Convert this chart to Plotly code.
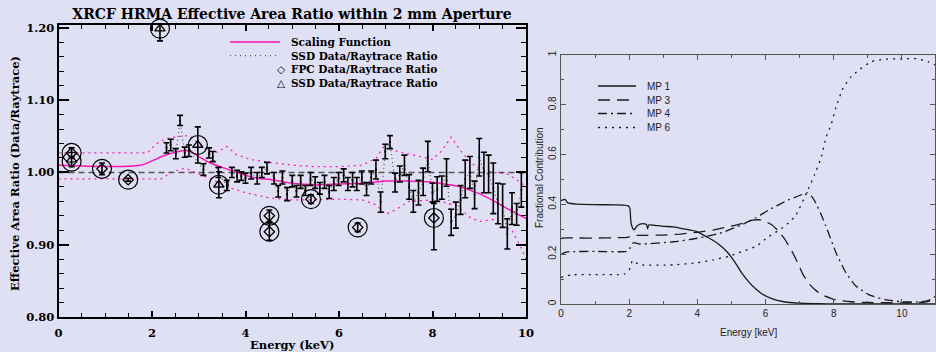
import plotly.graph_objects as go

W, H = 936, 352
BG = "#e0e0f4"
MAG = "#ff14b4"
SERIF = "DejaVu Serif"
SANS = "Liberation Sans"

# ---------------- Left panel data ----------------
scale_E = [0, 1.75, 2.0, 2.25, 2.5, 2.78, 3.0, 3.25, 3.55, 3.9, 4.25, 4.55, 5.0, 5.5, 6.0, 6.5, 7.0, 7.5, 7.9, 8.25, 8.6, 8.95, 9.3, 9.6, 9.8, 10.0]
scale_R = [1.010, 1.010, 1.016, 1.023, 1.028, 1.030, 1.022, 1.013, 1.006, 0.998, 0.992, 0.990, 0.985, 0.983, 0.984, 0.985, 0.988, 0.988, 0.987, 0.984, 0.980, 0.972, 0.961, 0.950, 0.943, 0.936]

upper_E = [0, 1.9, 2.1, 2.3, 2.6, 2.8, 3.0, 3.2, 3.4, 3.6, 3.8, 4.1, 4.5, 5.0, 5.5, 6.0, 6.5, 6.8, 7.0, 7.2, 7.6, 8.0, 8.2, 8.4, 8.6, 8.8, 9.0, 9.3, 9.6, 9.8, 10.0]
upper_R = [1.027, 1.027, 1.040, 1.047, 1.050, 1.051, 1.040, 1.030, 1.028, 1.036, 1.025, 1.018, 1.014, 1.010, 1.008, 1.008, 1.010, 1.020, 1.040, 1.030, 1.024, 1.018, 1.030, 1.049, 1.030, 1.015, 1.005, 1.000, 0.998, 0.990, 0.980]

lower_E = [0, 2.2, 2.4, 2.7, 3.0, 3.3, 3.6, 4.0, 4.5, 5.0, 5.5, 6.0, 6.5, 6.8, 7.0, 7.2, 7.5, 8.0, 8.5, 8.8, 9.0, 9.3, 9.5, 9.7, 9.9, 10.0]
lower_R = [0.991, 0.991, 1.000, 1.006, 0.998, 0.990, 0.980, 0.972, 0.965, 0.962, 0.962, 0.963, 0.962, 0.955, 0.942, 0.948, 0.960, 0.962, 0.955, 0.938, 0.932, 0.935, 0.925, 0.920, 0.895, 0.880]

ssd_E = [2.31, 2.40, 2.51, 2.60, 2.70, 2.79, 3.10, 3.22, 3.30, 3.42, 3.60, 3.71, 3.82, 3.91, 4.00, 4.12, 4.25, 4.35, 4.46,
         4.61, 4.70, 4.79, 4.89, 5.00, 5.09, 5.18, 5.28, 5.39, 5.49, 5.59, 5.69, 5.79, 5.89, 5.99, 6.10, 6.19, 6.29,
         6.38, 6.49, 6.59, 6.69, 6.79, 6.89, 6.99, 7.09, 7.20, 7.30, 7.40, 7.50, 7.59, 7.70, 7.80, 7.90, 8.00, 8.10,
         8.20, 8.30, 8.40, 8.50, 8.60, 8.70, 8.80, 8.90, 9.00, 9.10, 9.20, 9.30, 9.40, 9.50, 9.60, 9.70, 9.80, 9.90]
ssd_R = [1.034, 1.038, 1.026, 1.072, 1.028, 1.030, 1.004, 1.027, 1.022, 1.000, 0.982, 1.000, 0.995, 0.995, 0.992, 0.999, 0.992, 1.000, 1.006,
         0.992, 0.974, 0.993, 0.970, 0.988, 0.974, 0.987, 0.975, 0.991, 0.986, 0.978, 0.987, 0.973, 0.984, 0.991, 0.996, 0.984, 0.990,
         0.984, 0.993, 0.977, 0.993, 1.004, 0.959, 1.029, 1.042, 0.986, 0.998, 1.010, 0.980, 0.960, 0.972, 0.987, 1.022, 0.972, 0.977,
         0.979, 1.000, 0.931, 0.941, 0.962, 0.991, 1.000, 0.969, 1.021, 1.000, 0.998, 0.978, 0.957, 0.954, 0.915, 0.950, 0.942, 0.976]
ssd_err = [0.007, 0.008, 0.007, 0.007, 0.007, 0.008, 0.008, 0.007, 0.007, 0.007, 0.007, 0.007, 0.008, 0.006, 0.007, 0.008, 0.008, 0.007, 0.008,
           0.008, 0.008, 0.009, 0.009, 0.008, 0.008, 0.009, 0.007, 0.009, 0.008, 0.008, 0.009, 0.009, 0.009, 0.009, 0.009, 0.009, 0.010,
           0.009, 0.009, 0.009, 0.009, 0.013, 0.014, 0.010, 0.009, 0.013, 0.011, 0.014, 0.017, 0.015, 0.017, 0.019, 0.021, 0.013, 0.017,
           0.016, 0.019, 0.018, 0.018, 0.020, 0.026, 0.022, 0.019, 0.026, 0.028, 0.026, 0.035, 0.028, 0.030, 0.021, 0.022, 0.015, 0.024]

fpc_E = [0.28, 0.28, 0.93, 1.49, 4.51, 4.51, 5.40, 6.40, 8.03]
fpc_R = [1.027, 1.015, 1.005, 0.990, 0.940, 0.918, 0.963, 0.924, 0.937]
fpc_err_hi = [0.007, 0.007, 0.008, 0.002, 0.008, 0.012, 0.006, 0.006, 0.020]
fpc_err_lo = [0.007, 0.007, 0.008, 0.002, 0.008, 0.012, 0.006, 0.006, 0.044]

tri_E = [2.17, 2.98, 3.43]
tri_R = [1.199, 1.038, 0.983]
tri_err_hi = [0.010, 0.025, 0.018]
tri_err_lo = [0.017, 0.025, 0.018]

ref_E = [0, 10]
ref_R = [1.0, 1.0]

left_legend = ["Scaling Function", "SSD Data/Raytrace Ratio", "FPC Data/Raytrace Ratio", "SSD Data/Raytrace Ratio"]
left_legend_symbols = ["◇", "△"]

# ---------------- Right panel data ----------------
mp1_E = [0, 0.05, 0.12, 0.2, 0.45, 1.0, 1.6, 1.83, 1.97, 2.02, 2.05, 2.10, 2.15, 2.22, 2.32, 2.45, 2.51, 2.54, 2.57, 2.7, 3.0, 3.3,
         3.6, 4.0, 4.3, 4.5, 4.7, 4.9, 5.1, 5.3, 5.5, 5.7, 5.9, 6.2, 6.5, 6.8, 7.2, 7.6, 8.0, 9.0, 10.0, 11.0]
mp1_F = [0.415, 0.418, 0.420, 0.406, 0.401, 0.399, 0.398, 0.397, 0.394, 0.384, 0.330, 0.305, 0.298, 0.312, 0.321, 0.322, 0.319, 0.302, 0.317, 0.317, 0.312, 0.310,
         0.302, 0.290, 0.268, 0.252, 0.232, 0.205, 0.168, 0.125, 0.090, 0.062, 0.040, 0.021, 0.010, 0.005, 0.002, 0.001, 0.0, 0.0, 0.0, 0.0]

mp3_E = [0, 0.05, 0.5, 1.0, 1.5, 1.95, 2.05, 2.15, 2.5, 3.0, 3.5, 4.0, 4.5, 4.9, 5.3, 5.62, 5.9, 6.19, 6.4, 6.58, 6.8, 6.97, 7.1, 7.26,
         7.45, 7.65, 8.04, 8.5, 9.02, 9.6, 10.2, 10.6, 10.8, 10.97]
mp3_F = [0.262, 0.265, 0.265, 0.265, 0.266, 0.268, 0.272, 0.275, 0.276, 0.277, 0.281, 0.288, 0.298, 0.310, 0.323, 0.337, 0.337, 0.317, 0.290, 0.257, 0.205, 0.157, 0.118, 0.084,
         0.057, 0.037, 0.017, 0.009, 0.006, 0.005, 0.005, 0.007, 0.012, 0.024]

mp4_E = [0, 0.08, 0.25, 1.0, 1.93, 2.04, 2.12, 2.32, 3.3, 4.0, 4.66, 5.25, 5.7, 6.1, 6.67, 7.08, 7.23, 7.35, 7.48, 7.62, 7.77, 8.07,
         8.36, 8.65, 9.02, 9.5, 10.0, 10.58, 10.8, 10.97]
mp4_F = [0.198, 0.205, 0.210, 0.211, 0.212, 0.227, 0.246, 0.241, 0.250, 0.264, 0.284, 0.315, 0.345, 0.378, 0.418, 0.440, 0.446, 0.432, 0.404, 0.362, 0.313, 0.205,
         0.125, 0.072, 0.038, 0.018, 0.009, 0.009, 0.016, 0.030]

mp6_E = [0, 0.33, 1.0, 1.85, 2.0, 2.1, 2.3, 3.3, 4.0, 4.47, 4.96, 5.3, 5.72, 6.08, 6.4, 6.67, 6.89, 7.2, 7.44, 7.64, 7.78, 7.92,
         8.07, 8.27, 8.51, 8.76, 9.1, 9.5, 10.04, 10.43, 10.77, 10.97]
mp6_F = [0.107, 0.117, 0.118, 0.120, 0.136, 0.174, 0.158, 0.157, 0.166, 0.177, 0.193, 0.210, 0.232, 0.270, 0.297, 0.325, 0.357, 0.445, 0.520, 0.592, 0.672, 0.719,
         0.792, 0.866, 0.913, 0.942, 0.973, 0.983, 0.985, 0.985, 0.973, 0.960]

right_legend = ["MP 1", "MP 3", "MP 4", "MP 6"]
right_dashes = ["solid", "12px,7px", "9px,4px,2px,4px", "2px,5px"]

# ---------------- Figure ----------------
fig = go.Figure()

fig.add_trace(go.Scatter(x=upper_E, y=upper_R, mode="lines", line=dict(color=MAG, width=1.2, dash="2px,4px"),
                         xaxis="x", yaxis="y", showlegend=False, hoverinfo="skip"))
fig.add_trace(go.Scatter(x=lower_E, y=lower_R, mode="lines", line=dict(color=MAG, width=1.2, dash="2px,4px"),
                         xaxis="x", yaxis="y", showlegend=False, hoverinfo="skip"))
fig.add_trace(go.Scatter(x=ref_E, y=ref_R, mode="lines", line=dict(color="#555555", width=1.5, dash="6px,4px"),
                         xaxis="x", yaxis="y", showlegend=False))
fig.add_trace(go.Scatter(x=ssd_E, y=ssd_R, mode="lines", line=dict(color="#555555", width=1.2, dash="1px,3px"),
                         xaxis="x", yaxis="y", showlegend=False))
fig.add_trace(go.Scatter(x=scale_E, y=scale_R, mode="lines", line=dict(color=MAG, width=1.5, shape="spline"),
                         xaxis="x", yaxis="y", name=left_legend[0], showlegend=False))
fig.add_trace(go.Scatter(x=ssd_E, y=ssd_R, mode="markers", marker=dict(color="black", size=2),
                         error_y=dict(type="data", array=ssd_err, color="black", thickness=1.6, width=3),
                         xaxis="x", yaxis="y", name=left_legend[1], showlegend=False))
fig.add_trace(go.Scatter(x=fpc_E, y=fpc_R, mode="markers",
                         marker=dict(symbol="diamond-open", color="black", size=8, line=dict(width=1.3)),
                         error_y=dict(type="data", symmetric=False, array=fpc_err_hi, arrayminus=fpc_err_lo,
                                      color="black", thickness=1.6, width=3),
                         xaxis="x", yaxis="y", name=left_legend[2], showlegend=False, cliponaxis=False))
fig.add_trace(go.Scatter(x=tri_E, y=tri_R, mode="markers",
                         marker=dict(symbol="triangle-up-open", color="black", size=9, line=dict(width=1.3)),
                         error_y=dict(type="data", symmetric=False, array=tri_err_hi, arrayminus=tri_err_lo,
                                      color="black", thickness=1.6, width=3),
                         xaxis="x", yaxis="y", name=left_legend[3], showlegend=False, cliponaxis=False))
fig.add_trace(go.Scatter(x=fpc_E + tri_E, y=fpc_R + tri_R, mode="markers",
                         marker=dict(symbol="circle-open", color="black", size=19, line=dict(width=1.2)),
                         xaxis="x", yaxis="y", showlegend=False, cliponaxis=False, hoverinfo="skip"))

for E, F, name, dash in [(mp1_E, mp1_F, right_legend[0], right_dashes[0]),
                         (mp3_E, mp3_F, right_legend[1], right_dashes[1]),
                         (mp4_E, mp4_F, right_legend[2], right_dashes[2]),
                         (mp6_E, mp6_F, right_legend[3], right_dashes[3])]:
    fig.add_trace(go.Scatter(x=E, y=F, mode="lines", name=name,
                             line=dict(color="#1a1a1a", width=1.3, dash=dash, shape="spline", smoothing=0.5),
                             xaxis="x2", yaxis="y2", showlegend=False))


def px(x):
    return x / W


def py(y):
    return 1 - y / H


bold_serif = dict(family=SERIF, size=11.5, color="black", weight="bold")
legend_serif = dict(family=SERIF, size=10.5, color="black", weight="bold")
sans = dict(family=SANS, size=10, color="#222222")

left_ax_common = dict(showline=True, linecolor="black", linewidth=2, mirror="allticks", ticks="inside",
                      tickcolor="black", tickwidth=1.5, showgrid=False, zeroline=False, tickfont=bold_serif,
                      automargin=False)
right_ax_common = dict(showline=True, linecolor="#555555", linewidth=1.3, mirror="allticks", ticks="inside",
                       tickcolor="#555555", tickwidth=1.2, showgrid=False, zeroline=False, tickfont=sans,
                       automargin=False)

fig.update_layout(
    template="none",
    width=W, height=H, margin=dict(l=0, r=0, t=0, b=0, pad=0, autoexpand=False),
    paper_bgcolor=BG, plot_bgcolor=BG, showlegend=False,
    title=dict(text="XRCF HRMA Effective Area Ratio within 2 mm Aperture", x=px(292), xanchor="center",
               y=py(14), yanchor="middle", font=dict(family=SERIF, size=14, color="black", weight="bold")),
    xaxis=dict(domain=[px(58.5), px(526)], range=[0, 10], anchor="y", tick0=0, dtick=2, ticklen=6,
               minor=dict(dtick=0.5, ticklen=4, tickcolor="black", tickwidth=1.2, ticks="inside"),
               ticklabelstandoff=4, **left_ax_common),
    yaxis=dict(domain=[py(317), py(25)], range=[0.8, 1.204], anchor="x", tick0=0.8, dtick=0.1, tickformat=".2f",
               ticklen=10, minor=dict(dtick=0.02, ticklen=5, tickcolor="black", tickwidth=1.2, ticks="inside"),
               **left_ax_common),
    xaxis2=dict(domain=[px(561), px(935)], range=[0, 10.97], anchor="y2", tick0=0, dtick=2, ticklen=5,
                minor=dict(dtick=1, ticklen=3, tickcolor="#555555", tickwidth=1.2, ticks="inside"),
                **right_ax_common),
    yaxis2=dict(domain=[py(304), py(55)], range=[0, 1], anchor="x2", tick0=0, dtick=0.2, ticklen=5, tickangle=-90,
                minor=dict(dtick=0.1, ticklen=3, tickcolor="#555555", tickwidth=1.2, ticks="inside"),
                **right_ax_common),
)

annotations = [
    dict(x=px(292), y=py(345), text="Energy (keV)", font=bold_serif),
    dict(x=px(15), y=py(174), text="Effective Area Ratio (Data/Raytrace)", font=bold_serif, textangle=-90),
    dict(x=px(748), y=py(332), text="Energy [keV]", font=sans),
    dict(x=px(539), y=py(178), text="Fractional Contribution", font=sans, textangle=-90),
]
shapes = []

# left manual legend (one multi-line text block so rows never collide)
line_h = 1.3 * legend_serif["size"]
row0 = 42
left_rows = [row0 + i * line_h for i in range(4)]
shapes.append(dict(type="line", xref="paper", yref="paper", x0=px(230), x1=px(280), y0=py(left_rows[0]), y1=py(left_rows[0]),
                   line=dict(color=MAG, width=1.6)))
shapes.append(dict(type="line", xref="paper", yref="paper", x0=px(230), x1=px(280), y0=py(left_rows[1]), y1=py(left_rows[1]),
                   line=dict(color="#555555", width=1.2, dash="1px,4px")))
annotations.append(dict(x=px(289), y=py((left_rows[0] + left_rows[3]) / 2), text="<br>".join(left_legend),
                        xanchor="left", align="left", font=legend_serif))
annotations.append(dict(x=px(281), y=py((left_rows[2] + left_rows[3]) / 2), text="<br>".join(left_legend_symbols),
                        xanchor="center", align="center", font=legend_serif))

right_rows = [86, 100, 113.5, 127.5]
for r, lab, dash in zip(right_rows, right_legend, right_dashes):
    shapes.append(dict(type="line", xref="paper", yref="paper", x0=px(598), x1=px(636), y0=py(r), y1=py(r),
                       line=dict(color="#1a1a1a", width=1.3, dash=dash)))
    annotations.append(dict(x=px(645), y=py(r), text=lab, xanchor="left", font=sans))

for a in annotations:
    a.setdefault("xref", "paper")
    a.setdefault("yref", "paper")
    a.setdefault("showarrow", False)
    a.setdefault("xanchor", "center")
    a.setdefault("yanchor", "middle")

fig.update_layout(annotations=annotations, shapes=shapes)

fig.write_html("out.html")
